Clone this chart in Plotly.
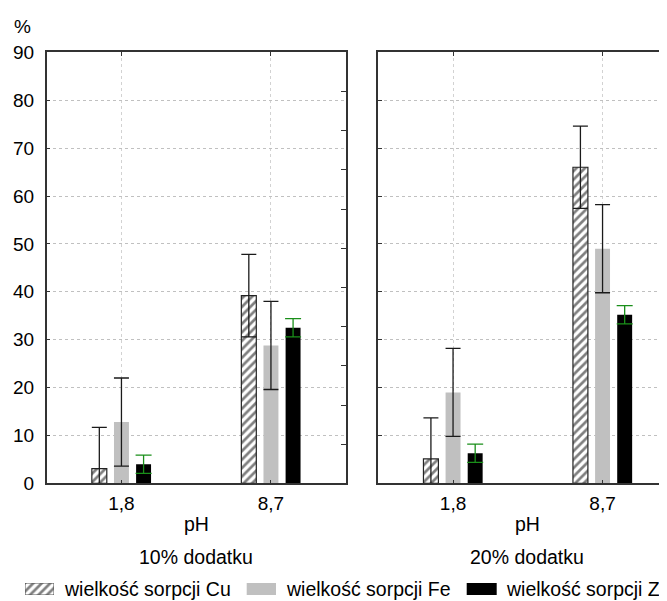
import plotly.graph_objects as go

# ---------------- data ----------------
categories = ["1,8", "8,7"]
panel_titles = ["10% dodatku", "20% dodatku"]
series_names = ["wielkość sorpcji Cu", "wielkość sorpcji Fe", "wielkość sorpcji Zn"]

cu_10 = [3.1, 39.2]
fe_10 = [12.8, 28.8]
zn_10 = [4.0, 32.5]
cu_20 = [5.1, 66.0]
fe_20 = [19.0, 49.0]
zn_20 = [6.3, 35.2]

cu_err_10 = [8.6, 8.6]
fe_err_10 = [9.2, 9.2]
zn_err_10 = [1.9, 1.9]
cu_err_20 = [8.6, 8.6]
fe_err_20 = [9.2, 9.2]
zn_err_20 = [1.9, 1.9]

y_ticks = [0, 10, 20, 30, 40, 50, 60, 70, 80, 90]
right_minor_ticks = [0, 8.18, 16.36, 24.55, 32.73, 40.91, 49.09, 57.27, 65.45, 73.64, 81.82, 90]

# ---------------- layout constants ----------------
W, H = 667, 601
FONT = "Liberation Sans, Arial, sans-serif"
LINE = "#333333"
GRID_Y = "#c0c0c0"
GRID_X = "#d2d2d2"
ERR_DARK = "#1a1a1a"
ERR_GREEN = "#1a8f1a"
GRAY = "#c0c0c0"

px_x = lambda p: p / W
px_y = lambda p: 1 - p / H

left_dom = [px_x(38.7), px_x(337.7)]
right_dom = [px_x(370.3), 1.0]
y_dom = [px_y(475.4), px_y(44.3)]
cat_px = (337.7 - 38.7) / 2.0
right_range = [-0.5, -0.5 + (W - 370.3) / cat_px]

bar_w = 0.1
slot = 0.148
offsets = [-slot - bar_w / 2, -bar_w / 2, slot - bar_w / 2]

hatch = dict(shape="/", fgcolor="black", bgcolor="white", size=6, solidity=0.45)

fig = go.Figure()

panels = [
    ("x", "y", cu_10, fe_10, zn_10, cu_err_10, fe_err_10, zn_err_10),
    ("x2", "y2", cu_20, fe_20, zn_20, cu_err_20, fe_err_20, zn_err_20),
]

for xa, ya, cu, fe, zn, ce, fe_e, ze in panels:
    fig.add_trace(go.Bar(
        x=categories, y=cu, xaxis=xa, yaxis=ya, width=bar_w, offset=offsets[0],
        name=series_names[0], showlegend=False, cliponaxis=False,
        marker=dict(color="white", pattern=hatch, line=dict(color="#222222", width=1.2)),
        error_y=dict(type="data", array=ce, visible=True, color=ERR_DARK, thickness=1.3, width=7.5),
    ))
    fig.add_trace(go.Bar(
        x=categories, y=fe, xaxis=xa, yaxis=ya, width=bar_w, offset=offsets[1],
        name=series_names[1], showlegend=False, cliponaxis=False,
        marker=dict(color=GRAY, line=dict(width=0)),
        error_y=dict(type="data", array=fe_e, visible=True, color=ERR_DARK, thickness=1.3, width=7.5),
    ))
    fig.add_trace(go.Bar(
        x=categories, y=zn, xaxis=xa, yaxis=ya, width=bar_w, offset=offsets[2],
        name=series_names[2], showlegend=False, cliponaxis=False,
        marker=dict(color="black", line=dict(width=0)),
        error_y=dict(type="data", array=ze, visible=True, color=ERR_GREEN, thickness=1.3, width=8),
    ))

# dummy trace so that the right-hand minor-tick axis of the left panel is drawn
fig.add_trace(go.Scatter(x=[], y=[], xaxis="x", yaxis="y3", showlegend=False))

# legend swatch for hatched series (own tiny axes)
fig.add_trace(go.Bar(
    x=[0], y=[1], xaxis="x4", yaxis="y4", width=1, showlegend=False, hoverinfo="skip",
    marker=dict(color="white", pattern=hatch, line=dict(color="#555555", width=1)),
))

axis_common = dict(
    showline=True, linecolor=LINE, linewidth=1.5,
    ticks="inside", ticklen=4, tickcolor=LINE, tickwidth=1,
    showgrid=True, griddash="dot", gridwidth=1,
    zeroline=False, fixedrange=True, automargin=False,
    tickfont=dict(family=FONT, size=19, color="black"),
)

fig.update_layout(
    width=W, height=H,
    margin=dict(l=0, r=0, t=0, b=0, autoexpand=False),
    paper_bgcolor="white", plot_bgcolor="white",
    barmode="overlay",
    font=dict(family=FONT, size=19, color="black"),
    showlegend=False,
    xaxis=dict(axis_common, domain=left_dom, anchor="y", type="category", gridcolor=GRID_X,
               range=[-0.5, 1.5], mirror="ticks", ticklabelstandoff=2),
    yaxis=dict(axis_common, domain=y_dom, anchor="x", range=[0, 90], gridcolor=GRID_Y,
               tickvals=y_ticks, ticktext=[str(v) for v in y_ticks],
               mirror=False, ticklabelstandoff=7),
    yaxis3=dict(overlaying="y", anchor="x", side="right", range=[0, 90],
                tickvals=right_minor_ticks, showticklabels=False,
                ticks="inside", ticklen=5, tickcolor=LINE, automargin=False,
                showline=True, linecolor=LINE, linewidth=1.5,
                showgrid=False, zeroline=False, fixedrange=True),
    xaxis2=dict(axis_common, domain=right_dom, anchor="y2", type="category", gridcolor=GRID_X,
                range=right_range, mirror="ticks", ticklabelstandoff=2),
    yaxis2=dict(axis_common, domain=y_dom, anchor="x2", range=[0, 90], gridcolor=GRID_Y,
                tickvals=y_ticks, showticklabels=False, mirror=False),
    xaxis4=dict(domain=[px_x(17), px_x(46)], anchor="y4", range=[-0.5, 0.5],
                visible=False, fixedrange=True, automargin=False),
    yaxis4=dict(domain=[px_y(587), px_y(575)], anchor="x4", range=[0, 1],
                visible=False, fixedrange=True, automargin=False),
)

# legend swatches (plain)
fig.add_shape(type="rect", xref="paper", yref="paper",
              x0=px_x(238.7), x1=px_x(268), y0=px_y(587), y1=px_y(575),
              fillcolor=GRAY, line=dict(width=0))
fig.add_shape(type="rect", xref="paper", yref="paper",
              x0=px_x(458.7), x1=px_x(488.7), y0=px_y(587), y1=px_y(575),
              fillcolor="black", line=dict(width=0))

ann = []
ann.append(dict(text="%", x=px_x(14), y=px_y(19), xref="paper", yref="paper",
                xanchor="center", yanchor="middle", showarrow=False, font=dict(size=19)))
for cx, title in zip([188, 519], panel_titles):
    ann.append(dict(text="pH", x=px_x(cx), y=px_y(516), xref="paper", yref="paper",
                    xanchor="center", yanchor="middle", showarrow=False, font=dict(size=19.5)))
    ann.append(dict(text=title, x=px_x(cx), y=px_y(549), xref="paper", yref="paper",
                    xanchor="center", yanchor="middle", showarrow=False, font=dict(size=19.5)))
for lx, name in zip([54, 275.7, 495.7], series_names):
    ann.append(dict(text=name, x=px_x(lx), y=px_y(581), xref="paper", yref="paper",
                    xanchor="left", yanchor="middle", showarrow=False, font=dict(size=19.5)))
fig.update_layout(annotations=ann)

fig.write_html("out.html")
